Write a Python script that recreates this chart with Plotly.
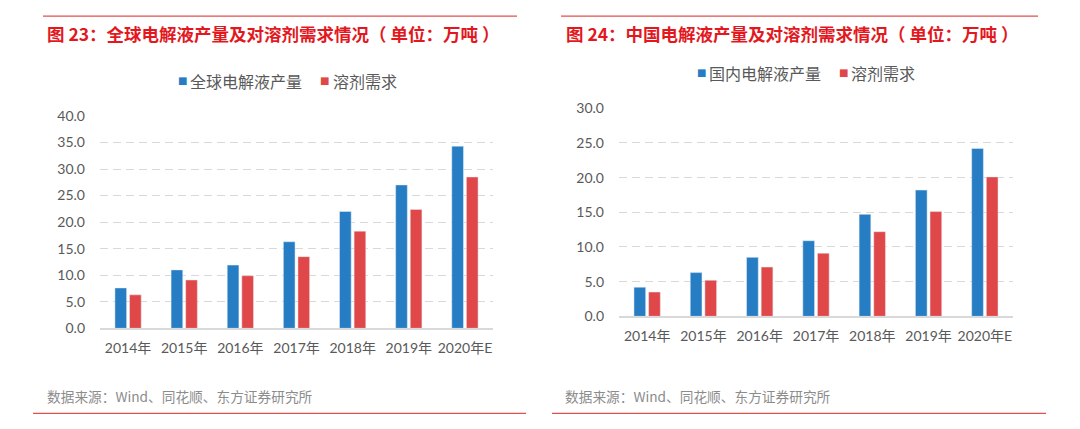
import plotly.graph_objects as go

years = ["2014年", "2015年", "2016年", "2017年", "2018年", "2019年", "2020年E"]

# Chart 23: global
global_electrolyte = [7.6, 11.0, 11.9, 16.3, 22.0, 27.0, 34.3]
global_solvent = [6.3, 9.1, 9.9, 13.5, 18.3, 22.4, 28.5]

# Chart 24: China
china_electrolyte = [4.2, 6.3, 8.5, 10.9, 14.7, 18.2, 24.2]
china_solvent = [3.5, 5.2, 7.1, 9.1, 12.2, 15.1, 20.1]

left_ticks = [0, 5, 10, 15, 20, 25, 30, 35, 40]
right_ticks = [0, 5, 10, 15, 20, 25, 30]

left_series_names = ["全球电解液产量", "溶剂需求"]
right_series_names = ["国内电解液产量", "溶剂需求"]

title_left = "图 23：全球电解液产量及对溶剂需求情况（ 单位：万吨 ）"
title_right = "图 24：中国电解液产量及对溶剂需求情况（ 单位：万吨 ）"
source_text = "数据来源：Wind、同花顺、东方证券研究所"

BLUE = "#267dc3"
RED = "#e04749"
TITLE_RED = "#e2181e"
W, H = 1080, 429
CJK = "Noto Sans CJK SC"
TICKFONT = dict(family="Lato, Noto Sans CJK SC", size=14, color="#595959")

fig = go.Figure()

fig.add_trace(go.Bar(x=years, y=global_electrolyte, name=left_series_names[0], marker_color=BLUE,
                     xaxis="x", yaxis="y"))
fig.add_trace(go.Bar(x=years, y=global_solvent, name=left_series_names[1], marker_color=RED,
                     xaxis="x", yaxis="y"))
fig.add_trace(go.Bar(x=years, y=china_electrolyte, name=right_series_names[0], marker_color=BLUE,
                     xaxis="x2", yaxis="y2"))
fig.add_trace(go.Bar(x=years, y=china_solvent, name=right_series_names[1], marker_color=RED,
                     xaxis="x2", yaxis="y2"))

def px(x):
    return x / W

def py(y):
    # layout position (in pixels of the target picture) -> paper fraction
    yf = y * 1.0396 - 8.2
    return 1 - yf / H

axis_x = dict(showgrid=False, showline=True, linecolor="#d9d9d9", linewidth=1.5,
              ticks="", tickfont=TICKFONT, ticklabelstandoff=6, fixedrange=True)
axis_y = dict(showgrid=True, gridcolor="#d9d9d9", griddash="8px,5px", gridwidth=1,
              zeroline=False, showline=False, ticks="", tickformat=".1f",
              tickfont=TICKFONT, ticklabelstandoff=14, fixedrange=True)

fig.update_layout(
    width=W, height=H,
    margin=dict(l=0, r=0, t=0, b=0),
    paper_bgcolor="white", plot_bgcolor="white",
    barmode="group", bargap=0.48, bargroupgap=0.2,
    font=dict(family=CJK, color="#595959"),
    showlegend=False,
    xaxis=dict(domain=[px(100), px(493)], anchor="y", **axis_x),
    yaxis=dict(domain=[py(327.7), py(115)], anchor="x", range=[0, 40],
               tickvals=left_ticks, **axis_y),
    xaxis2=dict(domain=[px(619), px(1013)], anchor="y2", **axis_x),
    yaxis2=dict(domain=[py(315.7), py(107.3)], anchor="x2", range=[0, 30],
                tickvals=right_ticks, **axis_y),
)

annotations = [
    dict(text="<b>" + title_left + "</b>", x=px(45), y=py(32), xanchor="left", yanchor="middle",
         font=dict(family=CJK, size=17.5, color=TITLE_RED)),
    dict(text="<b>" + title_right + "</b>", x=px(564), y=py(32), xanchor="left", yanchor="middle",
         font=dict(family=CJK, size=17.5, color=TITLE_RED)),
    dict(text=source_text, x=px(45), y=py(396), xanchor="left", yanchor="middle",
         font=dict(family=CJK, size=13.7, color="#8c8c8c")),
    dict(text=source_text, x=px(563), y=py(396), xanchor="left", yanchor="middle",
         font=dict(family=CJK, size=13.7, color="#8c8c8c")),
]

# legend entries (swatch + label) for each panel
legend_specs = [
    (left_series_names, [(176, 188), (318, 331)], 80),
    (right_series_names, [(695, 707), (837, 849)], 71.5),
]
for names, positions, ly in legend_specs:
    for name, color, (sx, tx) in zip(names, [BLUE, RED], positions):
        annotations.append(dict(text="■", x=px(sx), y=py(ly), xanchor="left", yanchor="middle",
                                font=dict(family="DejaVu Sans", size=10, color=color)))
        annotations.append(dict(text=name, x=px(tx), y=py(ly), xanchor="left", yanchor="middle",
                                font=dict(family=CJK, size=16, color="#595959")))

for a in annotations:
    a.update(xref="paper", yref="paper", showarrow=False)
fig.update_layout(annotations=annotations)

lines = [
    (43, 517, 15), (561, 1038, 15),
    (33, 526, 413), (552, 1046, 413),
]
for x0, x1, y in lines:
    fig.add_shape(type="line", xref="paper", yref="paper",
                  x0=px(x0), x1=px(x1), y0=py(y), y1=py(y),
                  line=dict(color="#e0504f", width=1.2))

css_fix = (
    "var s=document.createElement('style');"
    "s.textContent='html,body{margin:0!important;padding:0!important;overflow:hidden;}"
    "body>div{margin:0;padding:0;line-height:0;}.plotly-graph-div{display:block;}';"
    "document.head.appendChild(s);"
)

fig.write_html("out.html", config={"displayModeBar": False}, post_script=css_fix)
